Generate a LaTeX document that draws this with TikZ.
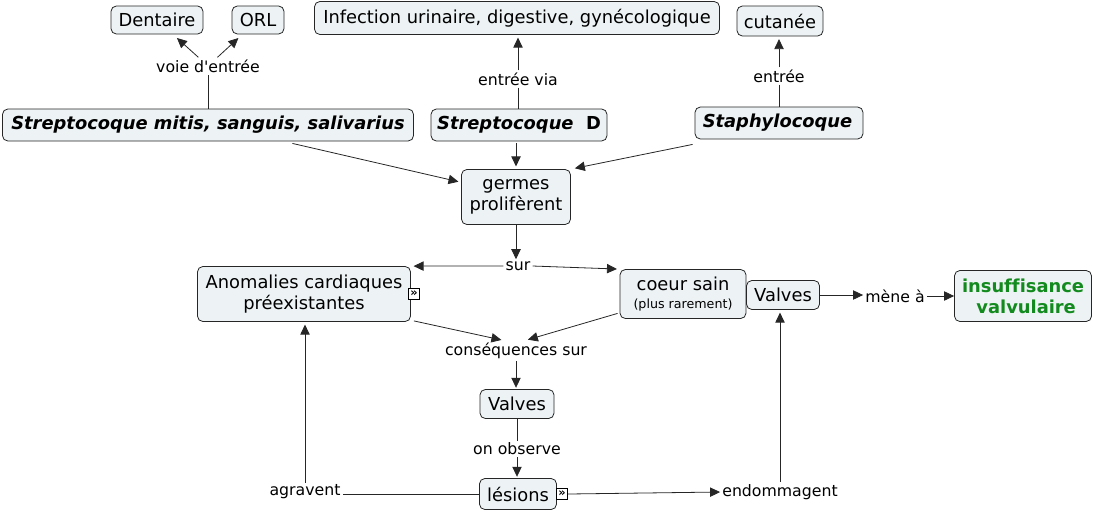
\documentclass[tikz,border=0pt]{standalone}
\usepackage{fontspec}
\setmainfont{DejaVu Sans}[Ligatures=NoCommon]
\newfontfamily\plainfont{DejaVu Sans}
\usetikzlibrary{arrows.meta,calc}
\definecolor{cfill}{HTML}{EDF3F5}
\definecolor{cgreen}{HTML}{138A1E}
\begin{document}
\begin{tikzpicture}[x=0.75pt,y=-0.75pt,
  concept/.style={draw=black!85,fill=cfill,rounded corners=4pt,line width=0.6pt,align=center,inner sep=1pt,font=\fontsize{13.4}{16}\selectfont},
  lbl/.style={inner sep=1.5pt,align=center,font=\fontsize{11.8}{14}\selectfont},
  icon/.style={draw=black,fill=white,inner sep=0pt,minimum width=8.5pt,minimum height=8pt,font=\fontsize{8.5}{8.5}\selectfont\bfseries},
  ln/.style={line width=0.6pt,black!85},
  arr/.style={ln,-{Triangle[length=7.5pt,width=7pt]}}]
\useasboundingbox (0,0) rectangle (1094,512);
% concepts
\node[concept,minimum width=69pt,minimum height=21pt] (dent) at (157,20) {Dentaire};
\node[concept,minimum width=39pt,minimum height=21pt] (orl) at (258,20) {ORL};
\node[concept,minimum width=303.75pt,minimum height=24.75pt] (inf) at (517,18) {Infection urinaire, digestive, gynécologique};
\node[concept,minimum width=64.5pt,minimum height=22.5pt] (cut) at (780,21) {cutanée};
\node[concept,minimum width=308.25pt,minimum height=24pt] (mitis) at (208,125) {\bfseries\itshape Streptocoque mitis, sanguis, salivarius};
\node[concept,minimum width=132pt,minimum height=24pt] (strd) at (519,125) {\bfseries\itshape Streptocoque\ \ \upshape D};
\node[concept,minimum width=126pt,minimum height=24pt] (staph) at (779,123) {\bfseries\itshape Staphylocoque\,};
\node[concept,minimum width=81.75pt,minimum height=41.25pt] (germ) at (516,197) {germes\\prolifèrent};
\node[concept,minimum width=159.75pt,minimum height=41.25pt] (anom) at (304,294) {Anomalies cardiaques\\préexistantes};
\node[concept,minimum width=94.5pt,minimum height=36.75pt] (coeur) at (683,294) {coeur sain\\[-3pt]{\fontsize{9.5}{11}\selectfont (plus rarement)}};
\node[concept,minimum width=54.75pt,minimum height=21.75pt] (valr) at (783,295) {Valves};
\node[concept,minimum width=102.75pt,minimum height=38.25pt,text=cgreen,font=\fontsize{13.4}{16}\selectfont\bfseries] (insu) at (1023,296) {insuffisance\\\ valvulaire};
\node[concept,minimum width=55.5pt,minimum height=21.75pt] (valm) at (517,404) {Valves};
\node[concept,minimum width=57.75pt,minimum height=23.25pt] (les) at (518,494) {lésions};
\node[icon] (ic1) at (414,294) {»};
\node[icon] (ic2) at (562,494) {»};
% link labels
\node[lbl] (voie) at (208,66) {voie d{\plainfont'}entrée};
\node[lbl] (via) at (518,79) {entrée via};
\node[lbl] (ent) at (779,76) {entrée};
\node[lbl] (sur) at (518,266) {sur};
\node[lbl] (cons) at (516,351) {conséquences sur};
\node[lbl] (obs) at (517,449) {on observe};
\node[lbl] (agr) at (305,492) {agravent};
\node[lbl] (endo) at (780,492) {endommagent};
\node[lbl] (mene) at (895,296) {mène à};
% connectors
\draw[ln] (mitis.north) -- (voie.south);
\draw[arr,shorten >=4pt] (voie) -- (dent);
\draw[arr,shorten >=4pt] (voie) -- (orl);
\draw[ln] (via.south) -- (via.south |- strd.north);
\draw[arr,shorten >=2pt] (via.north) -- (via.north |- inf.south);
\draw[ln] (ent.south) -- (ent.south |- staph.north);
\draw[arr,shorten >=2pt] (ent.north) -- (ent.north |- cut.south);
\draw[arr,shorten >=2pt] ($(mitis.-11)+(0,2)$) -- (germ.165);
\draw[arr,shorten >=2pt] ($(germ.north |- strd.south)+(0,2)$) -- (germ.north);
\draw[arr,shorten >=3pt] ($(staph.south west)+(-2,5)$) -- (germ.north east);
\draw[arr] (germ.south) -- (germ.south |- sur.north);
\draw[arr,shorten >=2pt] (sur.west) -- (anom.north east);
\draw[arr,shorten >=2pt] (sur.east) -- (coeur.north west);
\draw[arr,shorten >=3pt] ($(anom.south east)+(3,-1)$) -- ([xshift=-8pt]cons.north);
\draw[arr,shorten >=3pt] ($(coeur.197)+(-2,0)$) -- ([xshift=6pt]cons.north);
\draw[arr,shorten >=1pt] (cons.south) -- (cons.south |- valm.north);
\draw[ln] (valm.south) -- (valm.south |- obs.north);
\draw[arr,shorten >=1pt] (obs.south) -- (obs.south |- les.north);
\draw[ln] (les.west) -- (les.west -| agr.east);
\draw[arr,shorten >=2pt] (agr.north) -- (agr.north |- anom.south);
\draw[arr] (ic2.east) -- (endo.west);
\draw[arr,shorten >=2pt] (endo.north) -- (endo.north |- valr.south);
\draw[arr] (valr.east) -- (valr.east -| mene.west);
\draw[arr] (mene.east) -- (mene.east -| insu.west);
\end{tikzpicture}
\end{document}
